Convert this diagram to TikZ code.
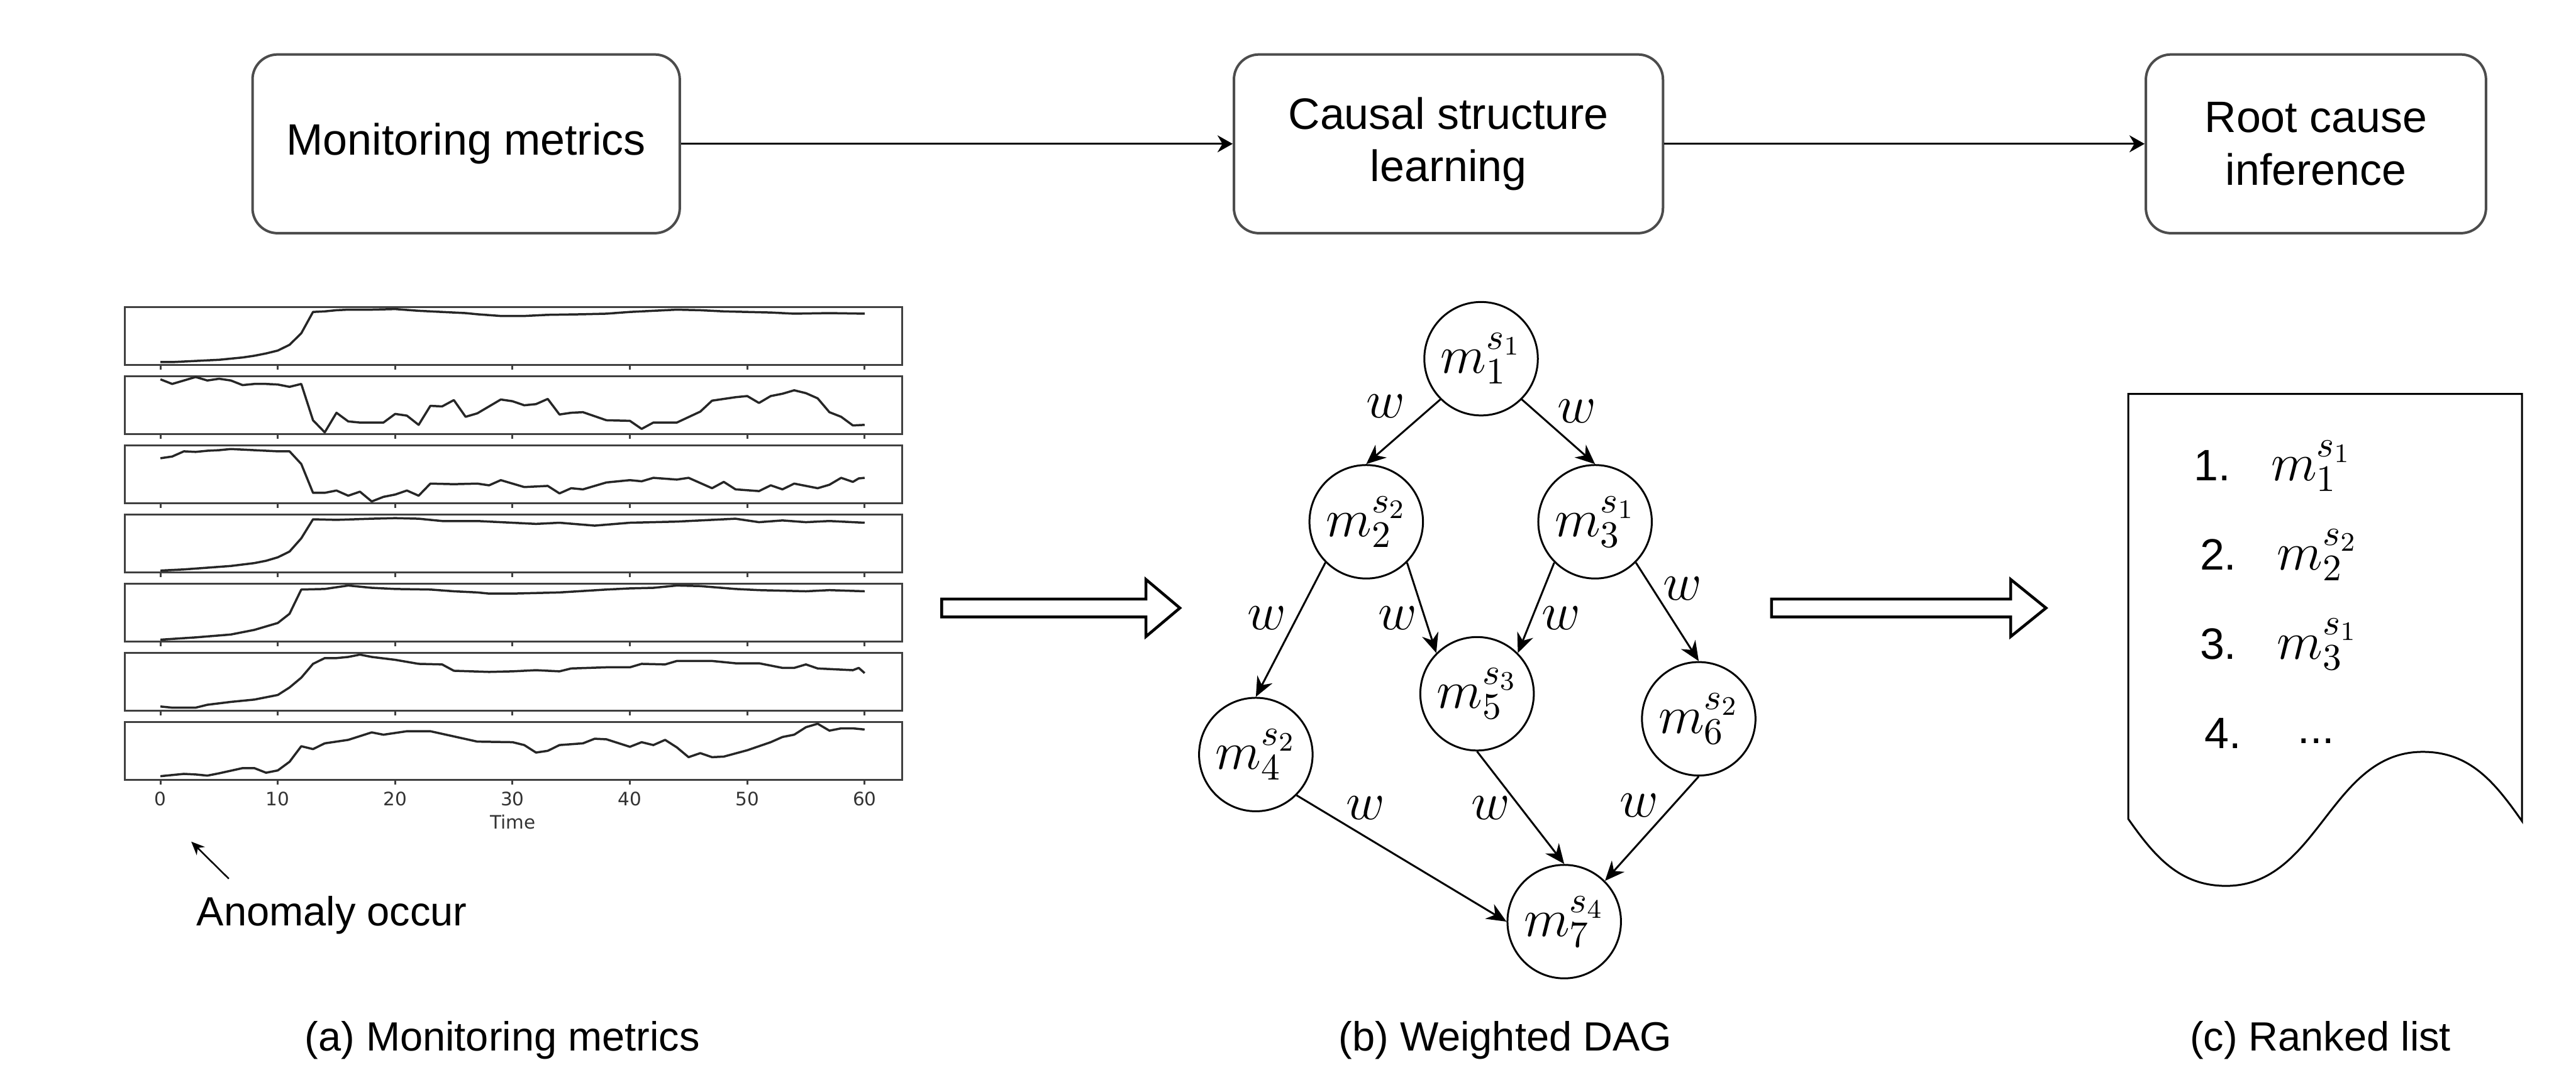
\RequirePackage{fix-cm}
\documentclass[tikz,border=0pt]{standalone}
\usepackage{fontspec}
\setmainfont{Liberation Sans}
\newfontfamily\plotfont{DejaVu Sans}
\usepackage{tikz}
\usetikzlibrary{arrows.meta, positioning}

\begin{document}
\begin{tikzpicture}[
stagebox/.style={draw=black!70, line width=0.8pt, rounded corners=0.28cm, align=center, inner sep=0pt, minimum height=2.0cm, font=\fontsize{14}{16.7}\selectfont},
var/.style={circle, draw, line width=0.6pt, minimum size=1.27cm, inner sep=0pt, font=\fontsize{17}{20}\selectfont},
link/.style={-{Stealth[length=0.22cm, width=0.19cm]}, line width=0.6pt},
flow/.style={-{Stealth[length=0.17cm, width=0.19cm]}, line width=0.6pt},
wt/.style={font=\fontsize{17}{20}\selectfont},
panel/.style={draw=black!75, line width=0.6pt},
series/.style={black!85, line width=0.7pt, line join=round},
metric/.style={x=0.1313cm, y=0.645cm, xshift=1.795cm},
ticklab/.style={font=\plotfont\fontsize{5.9}{7}\selectfont, text=black!80, inner sep=0pt},
hollow/.style={draw, line width=0.9pt, fill=white},
caption/.style={font=\fontsize{13}{15}\selectfont, inner sep=0pt},
rank/.style={font=\fontsize{14}{16}\selectfont, inner sep=0pt},
item/.style={font=\fontsize{17}{20}\selectfont, inner sep=0pt}]
\useasboundingbox (0,0) rectangle (28.82,12.22);

%pipeline
\node[stagebox, minimum width=4.78cm] (monitor) at (5.215,10.61) {Monitoring metrics};
\node[stagebox, minimum width=4.8cm] (learn) at (16.205,10.61) {Causal structure\\learning};
\node[stagebox, minimum width=3.805cm] (infer) at (25.91,10.61) {Root cause\\inference};
\draw[flow] (monitor) -- (learn);
\draw[flow] (learn) -- (infer);

%metrics
\foreach \i in {0,...,6} {
  \draw[panel] (1.395,{8.135-0.7735*\i}) rectangle ++(8.695,0.645);
  \foreach \t in {0,10,...,60}
    \draw[panel] ({1.795+0.1313*\t},{8.135-0.7735*\i}) -- ++(0,-0.055);
}
\foreach \t in {0,10,...,60}
  \node[ticklab] (tick\t) at ({1.795+0.1313*\t},3.28) {\t};
\node[ticklab] (time) at (5.735,3.02) {Time};

\begin{scope}[metric, yshift=8.135cm]
\draw[series] plot coordinates {(0,0.05) (1,0.05) (2,0.06) (3,0.07) (4,0.08) (5,0.09) (6,0.11) (7,0.13) (8,0.16) (9,0.20) (10,0.25) (11,0.35) (12,0.55) (13,0.92) (14,0.93) (15,0.95) (16,0.96) (18,0.96) (20,0.97) (22,0.94) (24,0.92) (26,0.90) (27,0.88) (29,0.85) (31,0.85) (33,0.87) (36,0.88) (38,0.89) (40,0.92) (42,0.94) (44,0.96) (46,0.95) (48,0.93) (50,0.92) (52,0.91) (54,0.89) (57,0.90) (60,0.89)};
\end{scope}
\begin{scope}[metric, yshift=7.3615cm]
\draw[series] plot coordinates {(0,0.95) (1,0.87) (2,0.93) (3,0.99) (4,0.93) (5,0.96) (6,0.93) (7,0.85) (8,0.87) (9,0.87) (10,0.86) (11,0.82) (12,0.87) (13,0.24) (14,0.03) (15,0.37) (16,0.22) (17,0.20) (19,0.20) (20,0.35) (21,0.32) (22,0.16) (23,0.49) (24,0.48) (25,0.59) (26,0.30) (27,0.36) (29,0.60) (30,0.57) (31,0.50) (32,0.52) (33,0.61) (34,0.34) (35,0.37) (36,0.38) (38,0.24) (40,0.23) (41,0.09) (42,0.20) (44,0.20) (46,0.39) (47,0.58) (48,0.61) (49,0.64) (50,0.66) (51,0.54) (52,0.66) (53,0.70) (54,0.76) (55,0.71) (56,0.62) (57,0.38) (58,0.30) (59,0.15) (60,0.16)};
\end{scope}
\begin{scope}[metric, yshift=6.588cm]
\draw[series] plot coordinates {(0,0.78) (1,0.81) (2,0.90) (3,0.89) (4,0.91) (5,0.92) (6,0.94) (7,0.93) (8,0.92) (10,0.90) (11,0.90) (12,0.68) (13,0.18) (14,0.18) (15,0.22) (16,0.13) (17,0.20) (18,0.03) (19,0.11) (20,0.15) (21,0.22) (22,0.13) (23,0.34) (25,0.33) (27,0.34) (28,0.31) (29,0.40) (31,0.28) (33,0.30) (34,0.17) (35,0.26) (36,0.24) (38,0.36) (40,0.40) (41,0.38) (42,0.44) (44,0.41) (45,0.44) (47,0.26) (48,0.37) (49,0.24) (51,0.21) (52,0.31) (53,0.24) (54,0.34) (56,0.26) (57,0.32) (58,0.44) (59,0.37) (59.5,0.43) (60,0.44)};
\end{scope}
\begin{scope}[metric, yshift=5.8145cm]
\draw[series] plot coordinates {(0,0.03) (2,0.05) (4,0.08) (6,0.11) (8,0.16) (9,0.20) (10,0.26) (11,0.36) (12,0.59) (13,0.92) (15,0.91) (18,0.93) (20,0.94) (22,0.93) (24,0.89) (27,0.89) (30,0.86) (32,0.84) (34,0.86) (37,0.81) (40,0.86) (44,0.88) (47,0.91) (49,0.93) (51,0.87) (53,0.90) (55,0.87) (57,0.89) (60,0.86)};
\end{scope}
\begin{scope}[metric, yshift=5.041cm]
\draw[series] plot coordinates {(0,0.03) (3,0.07) (6,0.12) (8,0.20) (10,0.32) (11,0.48) (12,0.90) (14,0.91) (16,0.97) (18,0.93) (20,0.91) (23,0.90) (25,0.87) (27,0.85) (28,0.83) (30,0.83) (34,0.85) (38,0.90) (40,0.92) (42,0.93) (44,0.97) (46,0.96) (49,0.91) (51,0.89) (53,0.88) (55,0.87) (57,0.89) (60,0.87)};
\end{scope}
\begin{scope}[metric, yshift=4.2675cm]
\draw[series] plot coordinates {(0,0.07) (1,0.05) (3,0.05) (4,0.10) (6,0.15) (8,0.19) (10,0.27) (11,0.40) (12,0.57) (13,0.81) (14,0.91) (15,0.91) (16,0.93) (17,0.97) (18,0.93) (20,0.88) (22,0.81) (24,0.80) (25,0.69) (28,0.67) (30,0.68) (32,0.70) (34,0.68) (35,0.73) (38,0.75) (40,0.75) (41,0.81) (43,0.80) (44,0.86) (47,0.86) (49,0.82) (51,0.82) (53,0.74) (54,0.74) (55,0.80) (56,0.73) (59,0.70) (59.5,0.74) (60,0.65)};
\end{scope}
\begin{scope}[metric, yshift=3.494cm]
\draw[series] plot coordinates {(0,0.06) (2,0.10) (3,0.09) (4,0.07) (5,0.11) (7,0.20) (8,0.20) (9,0.12) (10,0.16) (11,0.31) (12,0.58) (13,0.53) (14,0.63) (16,0.69) (18,0.82) (19,0.78) (21,0.84) (23,0.84) (25,0.75) (27,0.66) (30,0.65) (31,0.60) (32,0.47) (33,0.50) (34,0.60) (36,0.63) (37,0.71) (38,0.70) (40,0.57) (41,0.65) (42,0.60) (43,0.69) (44,0.56) (45,0.39) (46,0.46) (47,0.39) (48,0.40) (50,0.51) (52,0.65) (53,0.74) (54,0.78) (55,0.91) (56,0.97) (57,0.85) (58,0.89) (59,0.89) (60,0.87)};
\end{scope}

\coordinate (onset) at (2.14,2.80);
\coordinate (pointer) at (2.56,2.385);
\draw[-{Stealth[length=0.15cm, width=0.13cm]}, line width=0.5pt] (pointer) -- (onset);
\node[caption, anchor=base west] (anomaly) at (2.195,1.86) {Anomaly occur};

%hollow arrows
\foreach \xa/\xb/\xc in {10.535/12.82/13.2, 19.82/22.495/22.89}
  \draw[hollow] (\xa,5.315) -- (\xb,5.315) -- (\xb,5.095) -- (\xc,5.415) -- (\xb,5.735) -- (\xb,5.515) -- (\xa,5.515) -- cycle;

%DAG
\node[var] (m1) at (16.57,8.205) {$m_1^{s_1}$};
\node[var] (m2) at (15.285,6.38) {$m_2^{s_2}$};
\node[var] (m3) at (17.845,6.38) {$m_3^{s_1}$};
\node[var] (m4) at (14.05,3.775) {$m_4^{s_2}$};
\node[var] (m5) at (16.525,4.455) {$m_5^{s_3}$};
\node[var] (m6) at (19.005,4.175) {$m_6^{s_2}$};
\node[var] (m7) at (17.50,1.905) {$m_7^{s_4}$};
\draw[link] (m1.south west) -- (m2.north);
\draw[link] (m1.south east) -- (m3.north);
\draw[link] (m2.south west) -- (m4.north);
\draw[link] (m2.south east) -- (m5.north west);
\draw[link] (m3.south west) -- (m5.north east);
\draw[link] (m3.south east) -- (m6.north);
\draw[link] (m4.south east) -- (m7.west);
\draw[link] (m5.south) -- (m7.north);
\draw[link] (m6.south) -- (m7.north east);
\node[wt] (w12) at (15.50,7.67) {$w$};
\node[wt] (w13) at (17.645,7.62) {$w$};
\node[wt] (w24) at (14.17,5.305) {$w$};
\node[wt] (w25) at (15.635,5.305) {$w$};
\node[wt] (w35) at (17.465,5.305) {$w$};
\node[wt] (w36) at (18.825,5.63) {$w$};
\node[wt] (w47) at (15.275,3.18) {$w$};
\node[wt] (w57) at (16.675,3.18) {$w$};
\node[wt] (w67) at (18.335,3.205) {$w$};

%ranked list
\draw[line width=0.6pt] (23.81,3.055) -- (23.81,7.81) -- (28.215,7.81) -- (28.215,3.03)
  to[out=125, in=0] (27.105,3.805) to[out=180, in=0] (24.905,2.305) to[out=180, in=-55] cycle;
\node[rank, anchor=base east] (n1) at (24.965,6.84) {1.};
\node[rank, anchor=base east] (n2) at (25.03,5.845) {2.};
\node[rank, anchor=base east] (n3) at (25.03,4.845) {3.};
\node[rank, anchor=base east] (n4) at (25.085,3.845) {4.};
\node[item, anchor=base west] (r1) at (25.40,6.84) {$m_1^{s_1}$};
\node[item, anchor=base west] (r2) at (25.47,5.845) {$m_2^{s_2}$};
\node[item, anchor=base west] (r3) at (25.47,4.845) {$m_3^{s_1}$};
\node[rank, anchor=base west] (r4) at (25.70,3.9) {...};

%captions
\node[caption] (capa) at (5.62,0.58) {(a) Monitoring metrics};
\node[caption] (capb) at (16.84,0.58) {(b) Weighted DAG};
\node[caption] (capc) at (25.96,0.58) {(c) Ranked list};
\end{tikzpicture}
\end{document}
